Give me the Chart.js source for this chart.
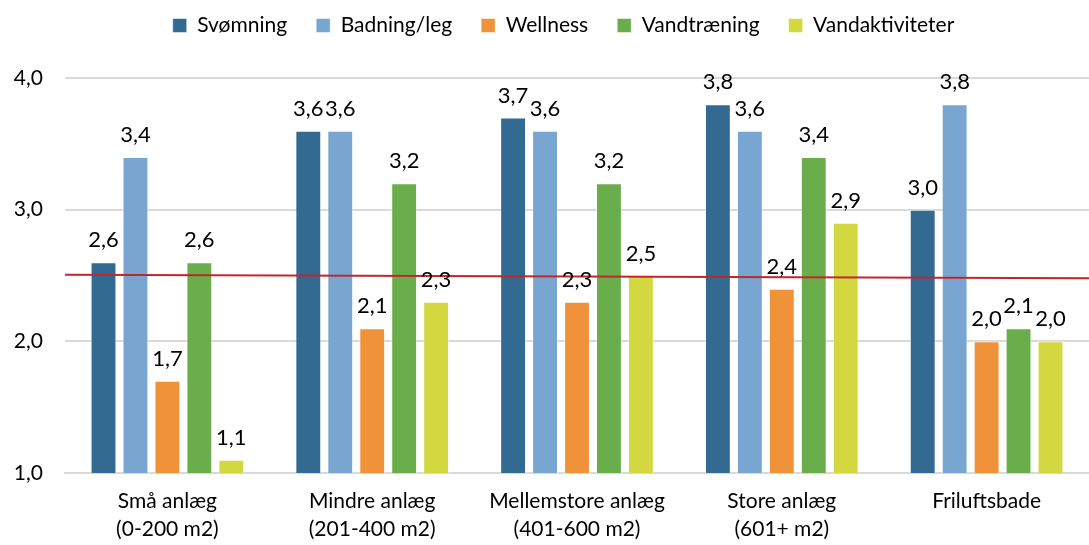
<!DOCTYPE html>
<html>
<head>
<meta charset="utf-8">
<script src="https://cdn.jsdelivr.net/npm/chart.js@4"></script>
<style>
  html, body { margin: 0; padding: 0; background: #fff; }
  #wrap { width: 1089px; height: 545px; }
</style>
</head>
<body>
<div id="wrap"><canvas id="barChart"></canvas></div>
<script>
var categories = [
    ['Små anlæg', '(0-200 m2)'],
    ['Mindre anlæg', '(201-400 m2)'],
    ['Mellemstore anlæg', '(401-600 m2)'],
    ['Store anlæg', '(601+ m2)'],
    ['Friluftsbade', '']
];
var svoemning      = [2.6, 3.6, 3.7, 3.8, 3.0];
var badning        = [3.4, 3.6, 3.6, 3.6, 3.8];
var wellness       = [1.7, 2.1, 2.3, 2.4, 2.0];
var vandtraening   = [2.6, 3.2, 3.2, 3.4, 2.1];
var vandaktivitet  = [1.1, 2.3, 2.5, 2.9, 2.0];
// average line: value at left and right edge of the plot
var avgLine = [2.505, 2.48];
var yTicks = [1, 2, 3, 4];

var fontFamily = "Lato, 'Open Sans', sans-serif";

function comma(v) {
    return v.toFixed(1).replace('.', ',');
}

// value above every bar
var valueLabels = {
    id: 'valueLabels',
    afterDatasetsDraw: function(chart) {
        var ctx = chart.ctx;
        ctx.save();
        ctx.font = '22px ' + fontFamily;
        ctx.fillStyle = '#000';
        ctx.textAlign = 'center';
        ctx.textBaseline = 'bottom';
        chart.data.datasets.forEach(function(ds, i) {
            var meta = chart.getDatasetMeta(i);
            meta.data.forEach(function(bar, j) {
                ctx.fillText(comma(ds.data[j]), bar.x, bar.y - 11);
            });
        });
        ctx.restore();
    }
};

// red average line across the plot
var avgLinePlugin = {
    id: 'avgLine',
    afterDatasetsDraw: function(chart) {
        var ctx = chart.ctx, area = chart.chartArea, y = chart.scales.y;
        ctx.save();
        ctx.strokeStyle = '#C0272D';
        ctx.lineWidth = 2;
        ctx.beginPath();
        ctx.moveTo(area.left, y.getPixelForValue(avgLine[0]));
        ctx.lineTo(area.right, y.getPixelForValue(avgLine[1]));
        ctx.stroke();
        ctx.restore();
    }
};

// more room under the legend, and move it a bit right
var legendSpace = {
    id: 'legendSpace',
    beforeInit: function(chart) {
        var fit = chart.legend.fit;
        chart.legend.fit = function() {
            fit.bind(chart.legend)();
            this.height = 92;
        };
    },
    afterLayout: function(chart) {
        chart.legend.left += 19;
        chart.legend.right += 19;
    }
};

function barSet(label, data, color) {
    return {
        label: label,
        data: data,
        backgroundColor: color,
        borderColor: 'rgba(255,255,255,0.5)',
        borderWidth: 1,
        categoryPercentage: 0.78,
        barPercentage: 0.81
    };
}

var ctx = document.getElementById('barChart');
var barChart = new Chart(ctx, {
    type: 'bar',
    data: {
        labels: categories,
        datasets: [
            barSet('Svømning', svoemning, '#336A92'),
            barSet('Badning/leg', badning, '#79A6D0'),
            barSet('Wellness', wellness, '#F0923A'),
            barSet('Vandtræning', vandtraening, '#6AAD4B'),
            barSet('Vandaktiviteter', vandaktivitet, '#D4D840')
        ]
    },
    options: {
        responsive: true,
        maintainAspectRatio: false,
        animation: false,
        layout: { padding: { left: 0, right: 0, top: -14, bottom: 0 } },
        plugins: {
            legend: {
                position: 'top',
                labels: {
                    font: { size: 21, family: fontFamily },
                    color: '#000',
                    boxWidth: 14,
                    boxHeight: 14,
                    padding: 29
                }
            },
            title: { display: false },
            tooltip: { enabled: false }
        },
        scales: {
            x: {
                grid: { display: false, drawTicks: false },
                border: { color: '#D9D9D9', width: 2 },
                afterFit: function(scale) { scale.height = 72; },
                ticks: {
                    font: { size: 21, family: fontFamily, lineHeight: 1.3 },
                    color: '#000',
                    padding: 15,
                    maxRotation: 0
                }
            },
            y: {
                min: 1,
                max: 4,
                afterBuildTicks: function(axis) {
                    axis.ticks = yTicks.map(function(v) { return {value: v}; });
                },
                afterFit: function(scale) { scale.width = 65; },
                grid: { color: '#D9D9D9', lineWidth: 2, drawTicks: false },
                border: { display: false },
                ticks: {
                    font: { size: 21, family: fontFamily },
                    color: '#000',
                    padding: 22,
                    callback: function(v) { return comma(v); }
                }
            }
        }
    },
    plugins: [legendSpace, avgLinePlugin, valueLabels]
});
</script>
</body>
</html>
